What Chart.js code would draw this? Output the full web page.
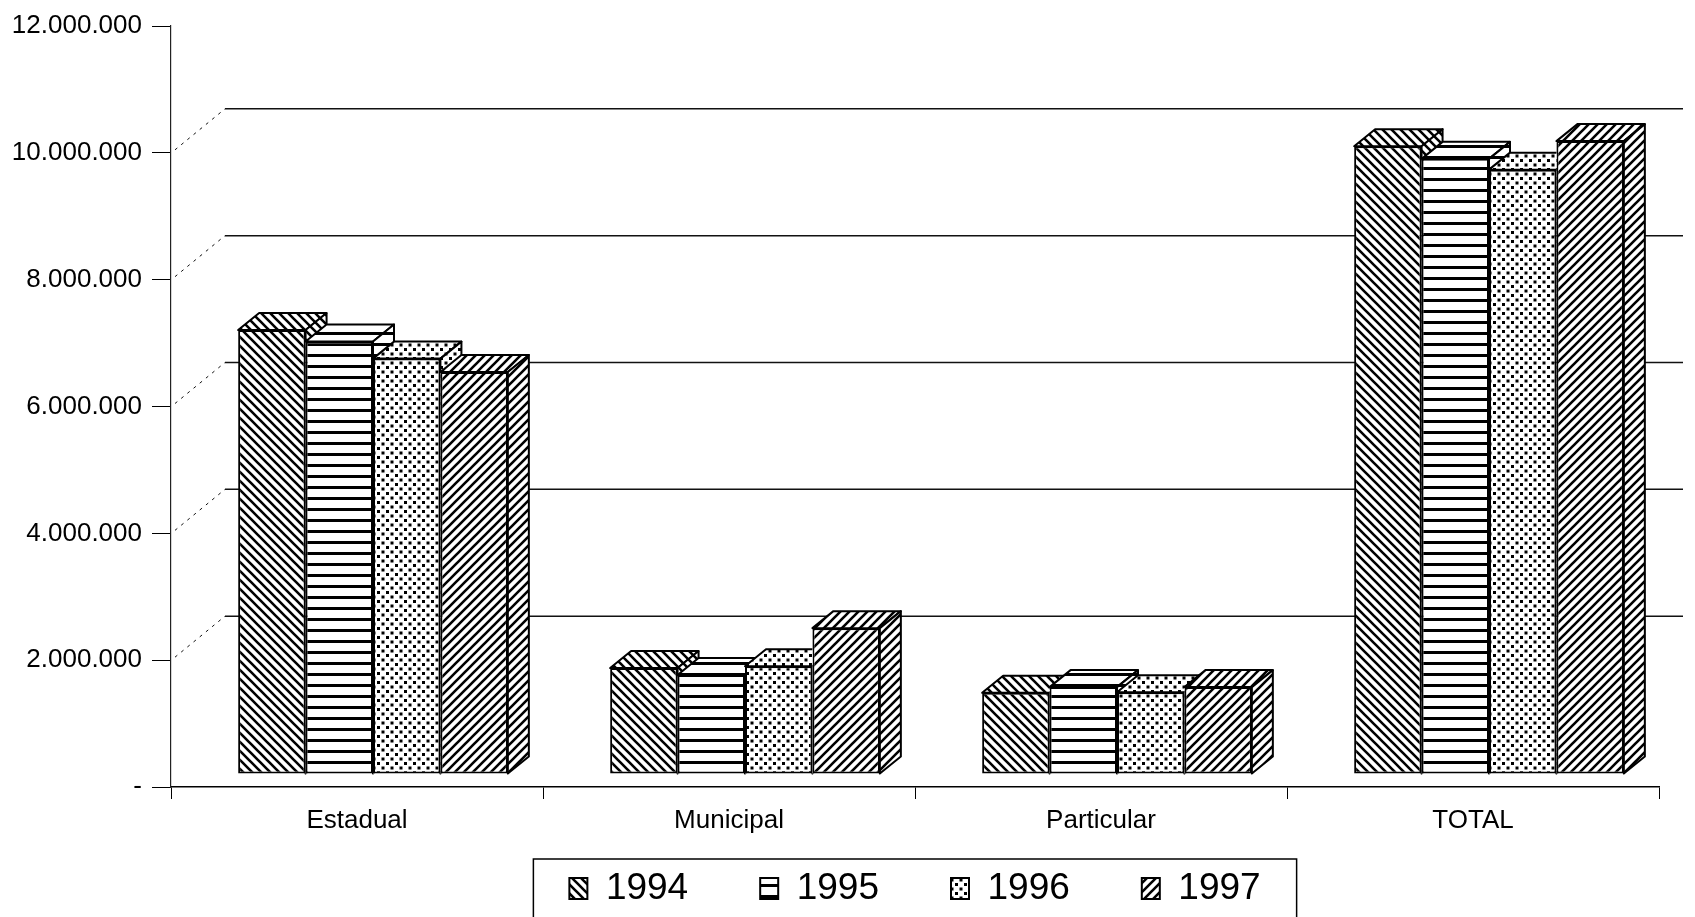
<!DOCTYPE html>
<html>
<head>
<meta charset="utf-8">
<script src="https://cdn.jsdelivr.net/npm/chart.js@4.4.1/dist/chart.umd.min.js"></script>
<style>
    html, body { margin: 0; padding: 0; background: #fff; }
    #wrap { width: 1695px; height: 917px; }
</style>
</head>
<body>
<div id="wrap"><canvas id="chart" width="1695" height="917"></canvas></div>
<script>
// data
const categories = ['Estadual', 'Municipal', 'Particular', 'TOTAL'];
const years = ['1994', '1995', '1996', '1997'];
const values1994 = [7000000, 1670000, 1280000, 9900000];
const values1995 = [6820000, 1560000, 1370000, 9700000];
const values1996 = [6550000, 1700000, 1290000, 9530000];
const values1997 = [6340000, 2300000, 1370000, 9980000];
const yTicks = [0, 2000000, 4000000, 6000000, 8000000, 10000000, 12000000];

const FONT = '"Liberation Sans", Arial, sans-serif';
const FRONT = { x: 16, y: -13 };   // bars sit a little behind the axis plane
const DEPTH = { x: 21, y: -17 };   // bar thickness
const WALL = { x: 54, y: -44 };    // back wall offset

function makePattern(kind) {
    const c = document.createElement('canvas');
    const s = kind === 'hlines' ? 11 : 9;
    c.width = s;
    c.height = s;
    const g = c.getContext('2d');
    g.fillStyle = '#fff';
    g.fillRect(0, 0, s, s);
    g.strokeStyle = '#000';
    g.fillStyle = '#000';
    if (kind === 'back') {
        g.lineWidth = 2.6;
        g.beginPath();
        for (let k = -1; k <= 1; k++) {
            g.moveTo(k * s - 1, -1);
            g.lineTo(k * s + s + 1, s + 1);
        }
        g.stroke();
    } else if (kind === 'fwd') {
        g.lineWidth = 2.6;
        g.beginPath();
        for (let k = -1; k <= 1; k++) {
            g.moveTo(k * s - 1, s + 1);
            g.lineTo(k * s + s + 1, -1);
        }
        g.stroke();
    } else if (kind === 'hlines') {
        g.fillRect(0, 4, s, 3);
    } else {
        g.fillRect(1, 1, 3, 3);
        g.fillRect(5.5, 5.5, 3, 3);
    }
    return g.createPattern(c, 'repeat');
}

const fills = [makePattern('back'), makePattern('hlines'), makePattern('dots'), makePattern('fwd')];
const seriesValues = [values1994, values1995, values1996, values1997];

function fmt(v) {
    if (v === 0) return '-';
    return String(v).replace(/\B(?=(\d{3})+(?!\d))/g, '.');
}

// back wall gridlines, 3D bar faces and the legend frame
const wallPlugin = {
    id: 'wall',
    beforeDatasetsDraw(chart) {
        const { ctx, chartArea, scales } = chart;
        ctx.save();
        yTicks.forEach(v => {
            if (v === 0 || v === 12000000) return;
            const y = scales.y.getPixelForValue(v);
            ctx.strokeStyle = '#111';
            ctx.lineWidth = 1.5;
            ctx.setLineDash([]);
            ctx.beginPath();
            ctx.moveTo(chartArea.left + WALL.x, y + WALL.y);
            ctx.lineTo(chartArea.right + 24, y + WALL.y);
            ctx.stroke();
            ctx.lineWidth = 1;
            ctx.setLineDash([3, 5]);
            ctx.beginPath();
            ctx.moveTo(chartArea.left + 4, y - 3);
            ctx.lineTo(chartArea.left + WALL.x, y + WALL.y);
            ctx.stroke();
        });
        ctx.restore();
        ctx.save();
        ctx.translate(FRONT.x, FRONT.y);
    },
    afterDatasetsDraw(chart) {
        const { ctx } = chart;
        const metas = years.map((_, i) => chart.getDatasetMeta(i));
        categories.forEach((_, j) => {
            const bars = metas.map(m => m.data[j].getProps(['x', 'y', 'base', 'width'], true));
            bars.forEach((b, i) => {
                const L = b.x - b.width / 2, R = b.x + b.width / 2, T = b.y, B = b.base;
                ctx.save();
                const next = bars[i + 1];
                if (next) {
                    ctx.beginPath();
                    ctx.rect(0, -100, chart.width, chart.height + 200);
                    ctx.rect(next.x - next.width / 2, next.y, next.width, next.base - next.y);
                    ctx.clip('evenodd');
                }
                ctx.fillStyle = fills[i];
                ctx.strokeStyle = '#000';
                ctx.lineWidth = 2;
                ctx.lineJoin = 'round';
                ctx.beginPath();
                ctx.moveTo(L, T);
                ctx.lineTo(R, T);
                ctx.lineTo(R + DEPTH.x, T + DEPTH.y);
                ctx.lineTo(L + DEPTH.x, T + DEPTH.y);
                ctx.closePath();
                ctx.fill();
                ctx.stroke();
                ctx.beginPath();
                ctx.moveTo(R, T);
                ctx.lineTo(R + DEPTH.x, T + DEPTH.y);
                ctx.lineTo(R + DEPTH.x, B + DEPTH.y);
                ctx.lineTo(R, B);
                ctx.closePath();
                ctx.fill();
                ctx.stroke();
                ctx.restore();
            });
        });
        ctx.restore();
    },
    afterDraw(chart) {
        const boxes = chart.legend.legendHitBoxes;
        if (!boxes || !boxes.length) return;
        const first = boxes[0], last = boxes[boxes.length - 1];
        const { ctx } = chart;
        ctx.save();
        ctx.strokeStyle = '#000';
        ctx.lineWidth = 1.5;
        const left = first.left - 36;
        ctx.strokeRect(left, first.top - 11, last.left + last.width + 36 - left, 200);
        ctx.restore();
    }
};

const ctx = document.getElementById('chart');
new Chart(ctx, {
    type: 'bar',
    data: {
        labels: categories,
        datasets: years.map((yr, i) => ({
            label: yr,
            data: seriesValues[i],
            backgroundColor: fills[i],
            borderColor: '#000',
            borderWidth: 2,
            borderSkipped: false,
            categoryPercentage: 0.725,
            barPercentage: 1.0
        }))
    },
    options: {
        responsive: false,
        animation: false,
        layout: { padding: { top: 26, right: 36, left: 0, bottom: 0 } },
        plugins: {
            tooltip: { enabled: false },
            legend: {
                position: 'bottom',
                fullSize: false,
                labels: {
                    color: '#000',
                    font: { family: FONT, size: 37 },
                    boxWidth: 18,
                    boxHeight: 21,
                    padding: 72
                }
            }
        },
        scales: {
            x: {
                afterFit: s => { s.height = 11; },
                grid: { drawOnChartArea: false, drawTicks: true, tickLength: 12, color: '#000' },
                border: { color: '#000', width: 1.5 },
                ticks: { color: '#000', mirror: true, padding: -49, font: { family: FONT, size: 26 } }
            },
            y: {
                min: 0,
                max: 12000000,
                afterFit: s => { s.width = 171; },
                afterBuildTicks: s => { s.ticks = yTicks.map(v => ({ value: v })); },
                grid: { drawOnChartArea: false, drawTicks: true, tickLength: 19, color: '#000' },
                border: { color: '#222', width: 1.2 },
                ticks: {
                    color: '#000',
                    padding: 10,
                    font: { family: FONT, size: 26 },
                    callback: v => fmt(v)
                }
            }
        }
    },
    plugins: [wallPlugin]
});
</script>
</body>
</html>
